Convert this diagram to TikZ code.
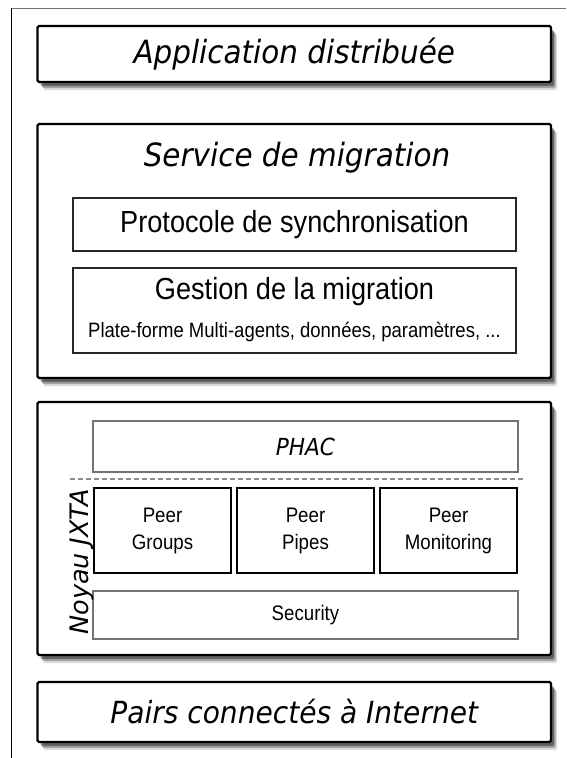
\documentclass[tikz,border=0pt]{standalone}
\usepackage{fontspec}
\setmainfont{Liberation Sans}[FakeStretch=0.89]
\newfontfamily\itf{DejaVu Sans}[FakeStretch=0.92]
\newfontfamily\itn{DejaVu Sans}
\usetikzlibrary{shadows}
\begin{document}
\begin{tikzpicture}[x=1pt,y=-1pt,
  softshadow/.style={
    drop shadow={shadow xshift=6pt,shadow yshift=-8pt,opacity=.14,fill=black},
    drop shadow={shadow xshift=4.5pt,shadow yshift=-6pt,opacity=.25,fill=black},
    drop shadow={shadow xshift=3pt,shadow yshift=-4pt,opacity=.4,fill=black}},
  outerbox/.style={draw=black,line width=2.4pt,rounded corners=1.5pt,fill=white,
    minimum width=513.5pt,inner sep=0pt,softshadow},
  title/.style={font=\itf\itshape\fontsize{32}{36}\selectfont,inner sep=0pt},
  migbox/.style={draw=black!85,line width=2pt,fill=white,minimum width=443pt,inner sep=0pt},
  graybox/.style={draw=black!55,line width=1.4pt,fill=white,minimum width=425pt,inner sep=0pt},
  peerbox/.style={draw=black,line width=2.4pt,fill=white,minimum width=137pt,minimum height=85pt,
    inner sep=0pt,align=center,font=\fontsize{21}{27}\selectfont},
]
\useasboundingbox (0,0) rectangle (566,758);
\fill[white] (0,0) rectangle (566,758);
\draw[black!55,line width=1pt] (11,8) -- (566,8);
\draw[black,line width=1pt] (11,8) -- (11,758);

% top box
\node[outerbox,minimum height=56pt,title] (app) at (294.25,54) {Application distribuée};

% migration service
\node[outerbox,minimum height=254pt] (svc) at (294.25,251) {};
\node[title] (svct) at (297,158) {Service de migration};
\node[migbox,minimum height=53pt,font=\fontsize{30.5}{34}\selectfont] (proto) at (294.5,224.5) {Protocole de synchronisation};
\node[migbox,minimum height=85pt] (gest) at (294.5,310.5) {};
\node[font=\fontsize{30.5}{34}\selectfont,inner sep=0pt] (gestt) at (294.5,292) {Gestion de la migration};
\node[font=\fontsize{20.8}{24}\selectfont,inner sep=0pt] (gests) at (294.5,332) {Plate-forme Multi-agents, données, paramètres, ...};

% JXTA
\node[outerbox,minimum height=253pt] (jxta) at (294.25,528.5) {};
\node[graybox,minimum height=51pt,font=\itf\itshape\fontsize{23.5}{26}\selectfont] (phac) at (305.5,446.5) {PHAC};
\draw[black!45,line width=1.2pt,dash pattern=on 5pt off 3pt] (70,479) -- (524,479);
\node[peerbox] (pg) at (162.5,530.5) {Peer\\Groups};
\node[peerbox] (pp) at (305.5,530.5) {Peer\\Pipes};
\node[peerbox] (pm) at (448.5,530.5) {Peer\\Monitoring};
\node[graybox,minimum height=48pt,font=\fontsize{21}{24}\selectfont] (sec) at (305.5,615) {Security};
\node[rotate=90,font=\itn\itshape\fontsize{25.5}{28}\selectfont,inner sep=0pt] (noyau) at (82,562) {Noyau JXTA};

% bottom box
\node[outerbox,minimum height=60pt,font=\itf\itshape\fontsize{30.5}{34}\selectfont,inner sep=0pt] (pairs) at (294.25,712) {Pairs connectés à Internet};
\end{tikzpicture}
\end{document}
